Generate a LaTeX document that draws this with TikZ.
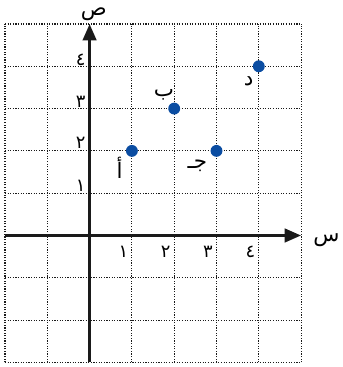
\documentclass[tikz,border=0pt]{standalone}
\usepackage{fontspec}
\usepackage{xcolor}
\usetikzlibrary{arrows.meta}
\newfontfamily\arabicfont[Script=Arabic]{DejaVu Sans}
\TeXXeTstate=1
\definecolor{ink}{HTML}{1a1a1a}
\definecolor{ptblue}{HTML}{0b4da2}
\newcommand{\ar}[1]{\beginR #1\endR}

\begin{document}
\begin{tikzpicture}[
  font=\arabicfont,
  griddot/.style={densely dotted, line width=0.75pt, ink},
  axis/.style={line width=2pt, ink, -{Triangle[length=11pt,width=9pt]}},
  pt/.style={circle, fill=ptblue, inner sep=0pt, minimum size=8pt},
  tick/.style={font=\arabicfont\large, inner sep=0pt},
  lbl/.style={font=\arabicfont\Large, inner sep=0pt}
]
  \useasboundingbox (-2.118,-3.109) rectangle (5.967,5.567);
  \draw[griddot] (-2,-3) grid (5,5);

  % axes
  \coordinate (xs) at (-2,0);
  \coordinate (xe) at (5,0);
  \coordinate (ys) at (0,-3);
  \coordinate (ye) at (0,5);
  \draw[axis] (xs) -- (xe);
  \draw[axis] (ys) -- (ye);
  \node[lbl] (xlab) at (5.6,-0.1) {\ar{س}};
  \node[lbl] (ylab) at (0.1,5.22) {\ar{ص}};

  % ticks
  \node[tick] (x1) at (0.8,-0.38) {١};
  \node[tick] (x2) at (1.8,-0.38) {٢};
  \node[tick] (x3) at (2.8,-0.38) {٣};
  \node[tick] (x4) at (3.8,-0.38) {٤};
  \node[tick, anchor=east] (y1) at (-0.09,1.18) {١};
  \node[tick, anchor=east] (y2) at (-0.09,2.2) {٢};
  \node[tick, anchor=east] (y3) at (-0.09,3.17) {٣};
  \node[tick, anchor=east] (y4) at (-0.09,4.14) {٤};

  % points
  \node[pt] (a) at (1,2) {};
  \node[pt] (b) at (2,3) {};
  \node[pt] (c) at (3,2) {};
  \node[pt] (d) at (4,4) {};
  \node[lbl] (alab) at (0.71,1.6) {\ar{أ}};
  \node[lbl] (blab) at (1.76,3.33) {\ar{ب}};
  \node[lbl] (clab) at (2.55,1.65) {\ar{جـ}};
  \node[lbl] (dlab) at (3.76,3.64) {\ar{د}};
\end{tikzpicture}
\end{document}
